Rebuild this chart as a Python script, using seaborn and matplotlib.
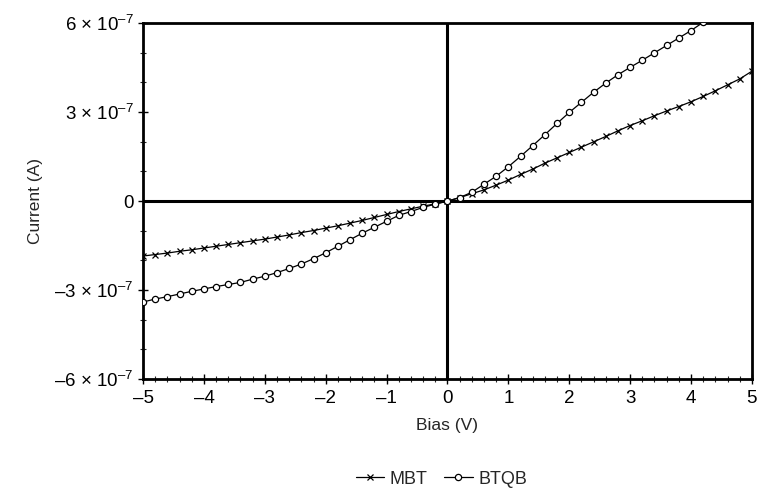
import matplotlib
matplotlib.use("Agg")
import matplotlib.pyplot as plt
from matplotlib.ticker import MultipleLocator, FuncFormatter
import pandas as pd
import seaborn as sns

# Bias sweep (V)
bias = [-5.0, -4.8, -4.6, -4.4, -4.2, -4.0, -3.8, -3.6, -3.4, -3.2,
        -3.0, -2.8, -2.6, -2.4, -2.2, -2.0, -1.8, -1.6, -1.4, -1.2,
        -1.0, -0.8, -0.6, -0.4, -0.2, 0.0, 0.2, 0.4, 0.6, 0.8,
        1.0, 1.2, 1.4, 1.6, 1.8, 2.0, 2.2, 2.4, 2.6, 2.8,
        3.0, 3.2, 3.4, 3.6, 3.8, 4.0, 4.2, 4.4, 4.6, 4.8, 5.0]

# Currents in units of 1e-7 A
mbt = [-1.85, -1.80, -1.75, -1.69, -1.64, -1.58, -1.52, -1.46, -1.40, -1.34,
       -1.28, -1.21, -1.14, -1.06, -0.99, -0.91, -0.83, -0.74, -0.65, -0.55,
       -0.45, -0.35, -0.26, -0.17, -0.09, 0.00, 0.12, 0.25, 0.38, 0.54,
       0.71, 0.90, 1.08, 1.28, 1.46, 1.64, 1.82, 2.00, 2.18, 2.37,
       2.55, 2.71, 2.88, 3.04, 3.19, 3.35, 3.53, 3.72, 3.92, 4.12, 4.38]

# BTQB goes off the top of the plot after ~4.2 V
btqb = [-3.40, -3.30, -3.22, -3.13, -3.04, -2.96, -2.88, -2.81, -2.74, -2.63,
        -2.53, -2.41, -2.27, -2.12, -1.94, -1.74, -1.52, -1.30, -1.08, -0.88,
        -0.68, -0.48, -0.35, -0.21, -0.10, 0.00, 0.12, 0.30, 0.57, 0.84,
        1.16, 1.51, 1.87, 2.24, 2.62, 2.99, 3.33, 3.67, 3.98, 4.26,
        4.51, 4.75, 5.00, 5.25, 5.50, 5.75, 6.03, 6.30]

y_ticks = [-6, -3, 0, 3, 6]

df_mbt = pd.DataFrame({"bias": bias, "current": [v * 1e-7 for v in mbt]})
df_btqb = pd.DataFrame({"bias": bias[:len(btqb)], "current": [v * 1e-7 for v in btqb]})

sns.set_style("ticks")
plt.rcParams["font.family"] = ["Liberation Sans", "DejaVu Sans"]
plt.rcParams["mathtext.fontset"] = "custom"
plt.rcParams["mathtext.rm"] = "Liberation Sans"
plt.rcParams["mathtext.it"] = "Liberation Sans:italic"
plt.rcParams["mathtext.bf"] = "Liberation Sans:bold"

fig, ax = plt.subplots(figsize=(7.61, 4.93), dpi=100)
fig.subplots_adjust(left=0.188, right=0.988, top=0.953, bottom=0.231)

# axis cross lines at zero
ax.axhline(0, color="black", lw=2.2, zorder=1)
ax.axvline(0, color="black", lw=2.2, zorder=1)

sns.lineplot(data=df_mbt, x="bias", y="current", ax=ax, color="black", lw=0.9,
             marker="x", markersize=5, markeredgecolor="black",
             markeredgewidth=0.9, label="MBT", zorder=3)
sns.lineplot(data=df_btqb, x="bias", y="current", ax=ax, color="black", lw=0.9,
             marker="o", markersize=4.5, markerfacecolor="white",
             markeredgecolor="black", markeredgewidth=0.9, label="BTQB", zorder=3)

ax.set_xlim(-5, 5)
ax.set_ylim(-6e-7, 6e-7)
ax.xaxis.set_major_locator(MultipleLocator(1))
ax.xaxis.set_minor_locator(MultipleLocator(0.2))
ax.set_yticks([t * 1e-7 for t in y_ticks])
ax.yaxis.set_minor_locator(MultipleLocator(1e-7))


def fmt_y(v, pos):
    n = round(v / 1e-7)
    if n == 0:
        return "0"
    sign = "\u2013" if n < 0 else ""
    return sign + "%d \u00d7 10$^{\u2013 7}$" % abs(n)


ax.yaxis.set_major_formatter(FuncFormatter(fmt_y))
ax.xaxis.set_major_formatter(FuncFormatter(lambda v, p: "%d" % v if v >= 0 else "\u2013%d" % abs(v)))

ax.tick_params(axis="both", which="major", direction="inout", length=7, width=1,
               labelsize=13.5, colors="black")
ax.tick_params(axis="both", which="minor", direction="inout", length=4, width=0.8)
ax.tick_params(axis="x", pad=4)

for s in ax.spines.values():
    s.set_linewidth(2)
    s.set_color("black")

ax.set_xlabel("Bias (V)", fontsize=12.5, labelpad=8)
ax.set_ylabel("Current (A)", fontsize=12.5, labelpad=8)

ax.get_legend().remove()
handles, labels = ax.get_legend_handles_labels()
fig.legend(handles, labels, loc="center", bbox_to_anchor=(0.58, 0.028), ncol=2,
           frameon=False, fontsize=13, handlelength=1.6, handletextpad=0.3,
           columnspacing=0.9)

plt.savefig("out.png", dpi=100)
